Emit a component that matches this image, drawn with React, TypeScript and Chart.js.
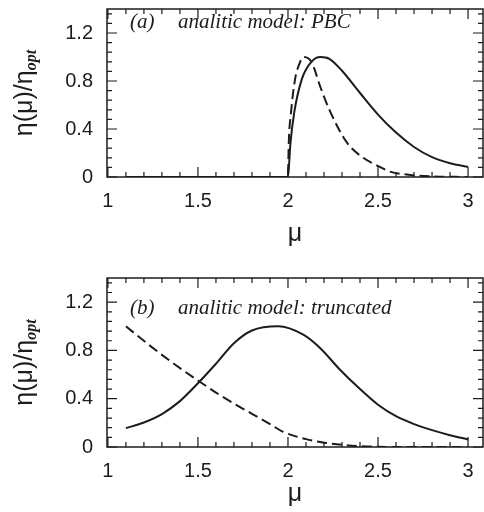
import React, { useEffect, useRef } from 'react';
import { Chart, registerables } from 'chart.js';

Chart.register(...registerables);

// ---------- axes ----------
const X_MIN = 0.995;
const X_MAX = 3.083;
const Y_MIN = 0;
const Y_MAX = 1.4;

const X_TICKS = [1, 1.5, 2, 2.5, 3];
const X_TICK_LABELS = ['1', '1.5', '2', '2.5', '3'];
const X_MINOR_TICKS = [1.1, 1.2, 1.3, 1.4, 1.6, 1.7, 1.8, 1.9, 2.1, 2.2, 2.3, 2.4, 2.6, 2.7, 2.8, 2.9];
const Y_TICKS = [0, 0.4, 0.8, 1.2];
const Y_TICK_LABELS = ['0', '0.4', '0.8', '1.2'];
const Y_MINOR_TICKS = [0.08, 0.16, 0.24, 0.32, 0.48, 0.56, 0.64, 0.72, 0.88, 0.96, 1.04, 1.12, 1.28, 1.36];

const X_TITLE = 'μ';
const Y_TITLE_MAIN = 'η(μ)/η';
const Y_TITLE_SUB = 'opt';

// ---------- panel (a): analitic model, PBC ----------
const MU_A_SOLID = [1.1, 2.0, 2.013, 2.035, 2.078, 2.13, 2.18, 2.23, 2.3, 2.4, 2.5, 2.6, 2.7, 2.8, 2.9, 3.0];
const ETA_A_SOLID = [0, 0, 0.27, 0.54, 0.82, 0.96, 1.0, 0.985, 0.885, 0.7, 0.52, 0.37, 0.25, 0.165, 0.115, 0.085];
const MU_A_DASHED = [1.1, 2.0, 2.004, 2.017, 2.04, 2.06, 2.087, 2.13, 2.18, 2.23, 2.326, 2.418, 2.49, 2.567, 2.68, 2.8, 3.0];
const ETA_A_DASHED = [0, 0, 0.27, 0.54, 0.82, 0.93, 1.0, 0.96, 0.75, 0.56, 0.29, 0.16, 0.1, 0.045, 0.017, 0.005, 0];
const TAG_A = '(a)';
const TEXT_A = 'analitic model: PBC';

// ---------- panel (b): analitic model, truncated ----------
const MU_B_SOLID = [1.1, 1.2, 1.3, 1.4, 1.5, 1.6, 1.7, 1.8, 1.946, 2.085, 2.178, 2.289, 2.4, 2.5, 2.6, 2.7, 2.8, 2.9, 3.0];
const ETA_B_SOLID = [0.156, 0.203, 0.273, 0.38, 0.528, 0.69, 0.86, 0.965, 1.0, 0.93, 0.82, 0.64, 0.48, 0.35, 0.255, 0.19, 0.14, 0.098, 0.062];
const MU_B_DASHED = [1.1, 1.233, 1.38, 1.507, 1.622, 1.7, 1.8, 1.9, 1.97, 2.1, 2.2, 2.3, 2.4, 2.5, 2.7, 3.0];
const ETA_B_DASHED = [1.0, 0.84, 0.675, 0.544, 0.43, 0.36, 0.275, 0.19, 0.128, 0.065, 0.036, 0.018, 0.007, 0.002, 0, 0];
const TAG_B = '(b)';
const TEXT_B = 'analitic model: truncated';

const INK = '#1c1c1c';
const SANS = '"Liberation Sans", Arial, Helvetica, sans-serif';
const SERIF = '"Liberation Serif", "Times New Roman", serif';

const pts = (xs: number[], ys: number[]) => xs.map((x, i) => ({ x, y: ys[i] }));

const framePlugin = {
  id: 'frameTicks',
  afterDatasetsDraw(chart: any, _args: any, opts: any) {
    const { ctx, chartArea: a, scales } = chart;
    const x = scales.x;
    const y = scales.y;
    ctx.save();
    ctx.strokeStyle = INK;
    ctx.lineWidth = 1.5;
    ctx.strokeRect(a.left, a.top, a.right - a.left, a.bottom - a.top);
    ctx.lineWidth = 1.2;
    const MAJ = 10;
    const MIN = 5;
    ctx.beginPath();
    const xt = (v: number, L: number) => {
      const px = x.getPixelForValue(v);
      ctx.moveTo(px, a.bottom);
      ctx.lineTo(px, a.bottom - L);
      ctx.moveTo(px, a.top);
      ctx.lineTo(px, a.top + L);
    };
    const yt = (v: number, L: number) => {
      const py = y.getPixelForValue(v);
      ctx.moveTo(a.left, py);
      ctx.lineTo(a.left + L, py);
      ctx.moveTo(a.right, py);
      ctx.lineTo(a.right - L, py);
    };
    X_TICKS.forEach((v) => xt(v, MAJ));
    X_MINOR_TICKS.forEach((v) => xt(v, MIN));
    Y_TICKS.forEach((v) => yt(v, MAJ));
    Y_MINOR_TICKS.forEach((v) => yt(v, MIN));
    ctx.stroke();

    // annotation
    ctx.fillStyle = INK;
    ctx.font = `italic 21px ${SERIF}`;
    ctx.textBaseline = 'alphabetic';
    ctx.textAlign = 'left';
    const by = y.getPixelForValue(opts.labelY);
    ctx.fillText(opts.tag, a.left + 23, by);
    ctx.fillText(opts.text, a.left + 71, by);

    // y-axis title with subscript
    const cy = (a.top + a.bottom) / 2;
    ctx.translate(32, cy);
    ctx.rotate(-Math.PI / 2);
    ctx.font = `25px ${SANS}`;
    const w1 = ctx.measureText(Y_TITLE_MAIN).width;
    ctx.font = `italic bold 16px ${SERIF}`;
    const w2 = ctx.measureText(Y_TITLE_SUB).width;
    const start = -(w1 + w2) / 2;
    ctx.font = `25px ${SANS}`;
    ctx.fillText(Y_TITLE_MAIN, start, 0);
    ctx.font = `italic bold 16px ${SERIF}`;
    ctx.fillText(Y_TITLE_SUB, start + w1, 4);
    ctx.restore();
  },
};

type PanelProps = {
  padTop: number;
  xAxisHeight: number;
  titlePadBottom: number;
  muSolid: number[];
  etaSolid: number[];
  muDashed: number[];
  etaDashed: number[];
  tag: string;
  text: string;
  labelY: number;
};

function Panel(p: PanelProps) {
  const ref = useRef<HTMLCanvasElement | null>(null);
  useEffect(() => {
    if (!ref.current) return;
    const chart = new Chart(ref.current, {
      type: 'line',
      data: {
        datasets: [
          {
            data: pts(p.muSolid, p.etaSolid),
            borderColor: INK,
            borderWidth: 2,
            pointRadius: 0,
            fill: false,
            cubicInterpolationMode: 'monotone',
          },
          {
            data: pts(p.muDashed, p.etaDashed),
            borderColor: INK,
            borderWidth: 2,
            borderDash: [10, 5],
            pointRadius: 0,
            fill: false,
            cubicInterpolationMode: 'monotone',
          },
        ],
      },
      options: {
        responsive: false,
        animation: false,
        devicePixelRatio: 1,
        layout: { padding: { top: p.padTop, right: 1, left: 0, bottom: 0 } },
        plugins: {
          legend: { display: false },
          tooltip: { enabled: false },
          frameTicks: { tag: p.tag, text: p.text, labelY: p.labelY },
        } as any,
        scales: {
          x: {
            type: 'linear',
            min: X_MIN,
            max: X_MAX,
            grid: { display: false, drawTicks: false },
            border: { display: false },
            afterBuildTicks: (s: any) => {
              s.ticks = X_TICKS.map((v) => ({ value: v }));
            },
            afterFit: (s: any) => {
              s.height = p.xAxisHeight;
              s.paddingLeft = 0;
              s.paddingRight = 0;
            },
            ticks: {
              autoSkip: false,
              maxRotation: 0,
              padding: 12,
              color: INK,
              font: { family: SANS, size: 20 },
              callback: (v: any) => {
                const i = X_TICKS.indexOf(Number(v));
                return i >= 0 ? X_TICK_LABELS[i] : '';
              },
            },
            title: {
              display: true,
              text: X_TITLE,
              color: INK,
              font: { family: SANS, size: 25 },
              padding: { top: 0, bottom: p.titlePadBottom },
            },
          },
          y: {
            type: 'linear',
            min: Y_MIN,
            max: Y_MAX,
            grid: { display: false, drawTicks: false },
            border: { display: false },
            afterBuildTicks: (s: any) => {
              s.ticks = Y_TICKS.map((v) => ({ value: v }));
            },
            afterFit: (s: any) => {
              s.width = 107;
              s.paddingTop = 0;
              s.paddingBottom = 0;
            },
            ticks: {
              autoSkip: false,
              padding: 14,
              color: INK,
              font: { family: SANS, size: 20 },
              callback: (v: any) => {
                const i = Y_TICKS.indexOf(Number(v));
                return i >= 0 ? Y_TICK_LABELS[i] : '';
              },
            },
          },
        },
      } as any,
      plugins: [framePlugin],
    });
    return () => chart.destroy();
  }, []);
  return <canvas ref={ref} width={484} height={256} style={{ display: 'block', width: 484, height: 256 }} />;
}

export default function App() {
  return (
    <div style={{ position: 'absolute', left: 0, top: 0, width: 484, height: 512, background: '#fff' }}>
      <Panel
        padTop={9}
        xAxisHeight={79}
        titlePadBottom={7}
        muSolid={MU_A_SOLID}
        etaSolid={ETA_A_SOLID}
        muDashed={MU_A_DASHED}
        etaDashed={ETA_A_DASHED}
        tag={TAG_A}
        text={TEXT_A}
        labelY={1.24}
      />
      <Panel
        padTop={22}
        xAxisHeight={65}
        titlePadBottom={3}
        muSolid={MU_B_SOLID}
        etaSolid={ETA_B_SOLID}
        muDashed={MU_B_DASHED}
        etaDashed={ETA_B_DASHED}
        tag={TAG_B}
        text={TEXT_B}
        labelY={1.1}
      />
    </div>
  );
}
